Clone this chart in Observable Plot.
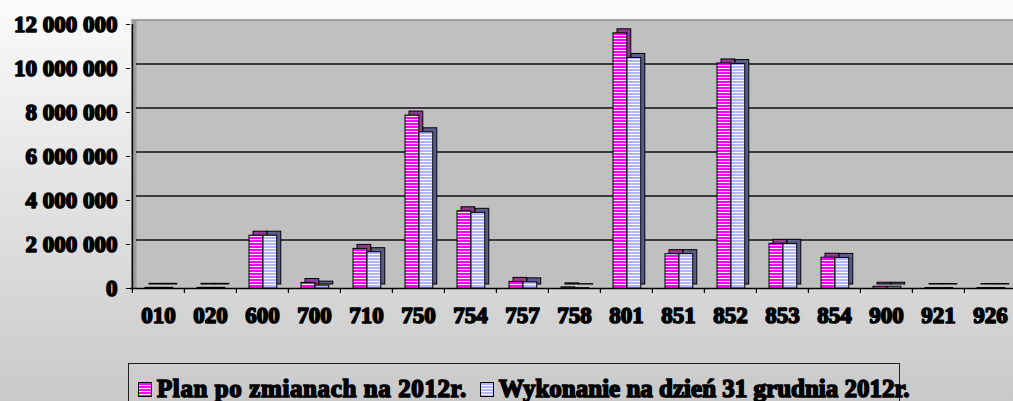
<!DOCTYPE html>
<html>
<head>
<meta charset="utf-8">
<script src="https://cdn.jsdelivr.net/npm/d3@7"></script>
<script src="https://cdn.jsdelivr.net/npm/@observablehq/plot@0.6"></script>
<style>
  html, body { margin: 0; padding: 0; }
  #wrap {
    position: relative; width: 1013px; height: 401px; overflow: hidden;
    background: linear-gradient(to bottom, #fbfbfb 0%, #e2e2e2 50%, #c9c9c9 100%);
    font-family: "Liberation Serif", serif; font-weight: bold;
  }
  svg.chart text { stroke: #000; stroke-width: 1.6px; stroke-linejoin: round; fill: #000; }
  #legend {
    position: absolute; left: 128px; top: 363px; width: 772px; height: 60px;
    border: 1px solid #222; box-sizing: border-box;
    display: flex; align-items: flex-start; padding: 13px 0 0 9px;
    font-family: "Liberation Serif", serif; font-weight: bold;
    font-size: 25px; line-height: 24px; color: #000;
    -webkit-text-stroke: 1.6px #000; white-space: nowrap;
  }
  #legend .item { display: flex; align-items: center; margin-right: 13px; }
  #legend .sw { display: inline-block; width: 12px; height: 13px; border: 1px solid #000; margin-right: 5px; }
  #legend .item:first-child span { letter-spacing: 0.6px; }
</style>
</head>
<body>
<div id="wrap"></div>
<script>
const categories = ["010","020","600","700","710","750","754","757","758","801","851","852","853","854","900","921","926"];
const planValues = [30000, 30000, 2400000, 250000, 1800000, 7860000, 3510000, 300000, 50000, 11600000, 1560000, 10230000, 2030000, 1400000, 80000, 20000, 20000];
const wykonanieValues = [30000, 30000, 2400000, 130000, 1650000, 7100000, 3440000, 280000, 15000, 10480000, 1560000, 10200000, 2030000, 1390000, 80000, 20000, 20000];
const seriesNames = ["Plan po zmianach na 2012r.", "Wykonanie na dzień 31 grudnia 2012r."];
const yTicks = [0, 2000000, 4000000, 6000000, 8000000, 10000000, 12000000];

const plan = categories.map((c, i) => ({cat: c, value: planValues[i]}));
const wyk = categories.map((c, i) => ({cat: c, value: wykonanieValues[i]}));

const W = 1013, H = 340, mL = 130, mR = -5;
const step = (W - mR - mL) / categories.length;
const depth = 4;
const fmt = d => d3.format(",")(d).replace(/,/g, " ");

const pinkL = 13, barW = 14;
const blueL = pinkL + barW;

function bar(data, fill, left, back) {
  return Plot.barY(data, {
    x: "cat", y: "value",
    fill, stroke: "#000", strokeWidth: 1,
    insetLeft: left, insetRight: step - left - barW,
    dx: back ? depth : 0, dy: back ? -depth : 0
  });
}

// gridline drawn as a thin filled band, lifted onto the back wall
function gridBand(values, fill, left) {
  return Plot.rect(values, {
    y1: d => d, y2: d => d,
    insetTop: -(depth + 0.75), insetBottom: depth - 0.75,
    insetLeft: left, fill
  });
}

const gridVals = yTicks.slice(1, -1);
const topVal = [yTicks[yTicks.length - 1]];

const chart = Plot.plot({
  width: W, height: H,
  marginLeft: mL, marginRight: mR, marginTop: 24, marginBottom: H - 288,
  className: "chart",
  style: {background: "transparent", fontFamily: "'Liberation Serif', serif", fontSize: "23px", fontWeight: "bold", color: "#000"},
  x: {domain: categories, padding: 0, label: null},
  y: {domain: [0, 12000000], label: null},
  marks: [
    Plot.frame({fill: "#9c9c9c", stroke: null, insetTop: -depth, insetLeft: 1}),
    Plot.frame({fill: "#c0c0c0", stroke: null, insetTop: -depth, insetLeft: 6}),
    gridBand(gridVals, "#111111", 6),
    gridBand(topVal, "#8a8a8a", 1),
    bar(plan, "#8a3c8a", pinkL, true),
    bar(plan, "url(#pinkStripes)", pinkL, false),
    bar(wyk, "#5c5c8c", blueL, true),
    bar(wyk, "url(#blueStripes)", blueL, false),
    Plot.ruleY([0], {stroke: "#000", strokeWidth: 1.5}),
    Plot.ruleX([categories[0]], {x: d => d, dx: -step / 2, y1: 0, y2: topVal[0], stroke: "#000", strokeWidth: 1.5}),
    Plot.ruleX(categories, {x: d => d, dx: -step / 2, y1: 0, y2: 0, insetBottom: -5, stroke: "#000", strokeWidth: 1.2}),
    Plot.axisY({ticks: yTicks, tickFormat: fmt, tickSize: 4, tickPadding: 9, label: null, stroke: "#000",
                textStroke: "#000", textStrokeWidth: 1.6}),
    Plot.axisX({tickSize: 0, tickPadding: 18, label: null, textStroke: "#000", textStrokeWidth: 1.6})
  ]
});

const defs = document.createElementNS("http://www.w3.org/2000/svg", "defs");
defs.innerHTML = `
  <pattern id="pinkStripes" width="6" height="3" patternUnits="userSpaceOnUse">
    <rect width="6" height="3" fill="#ff00ff"/><rect y="2" width="6" height="1" fill="#ffe0ff"/>
  </pattern>
  <pattern id="blueStripes" width="6" height="3" patternUnits="userSpaceOnUse">
    <rect width="6" height="3" fill="#b4b4fa"/><rect y="2" width="6" height="1" fill="#f8f8ff"/>
  </pattern>`;
chart.insertBefore(defs, chart.firstChild);

const wrap = document.getElementById("wrap");
wrap.appendChild(chart);

const legend = document.createElement("div");
legend.id = "legend";
const swatchBg = [
  "repeating-linear-gradient(to bottom, #ff00ff 0px, #ff00ff 2px, #ffe0ff 2px, #ffe0ff 3px)",
  "repeating-linear-gradient(to bottom, #b4b4fa 0px, #b4b4fa 2px, #f8f8ff 2px, #f8f8ff 3px)"
];
seriesNames.forEach((name, i) => {
  const item = document.createElement("div");
  item.className = "item";
  const sw = document.createElement("span");
  sw.className = "sw";
  sw.style.background = swatchBg[i];
  const label = document.createElement("span");
  label.textContent = name;
  item.appendChild(sw);
  item.appendChild(label);
  legend.appendChild(item);
});
wrap.appendChild(legend);
</script>
</body>
</html>
